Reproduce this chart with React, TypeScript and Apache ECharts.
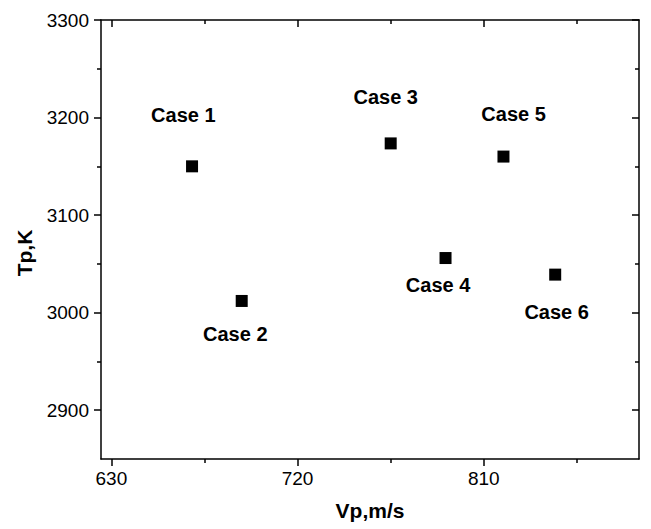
import React, { useEffect, useRef } from "react";
import * as echarts from "echarts";

// Data
const caseNames = ["Case 1", "Case 2", "Case 3", "Case 4", "Case 5", "Case 6"];
const vpValues = [669, 693, 765, 791.5, 819.5, 844.5];
const tpValues = [3150, 3012, 3173.5, 3056, 3160, 3039];
// annotation anchors (data units) for the case labels
const labelVp = [664.8, 689.9, 762.6, 787.9, 824.4, 845.2];
const labelTp = [3203, 2978, 3221.5, 3028.5, 3204, 3001];

const xMajorTicks = [630, 720, 810];
const xMinorTicks = [675, 765, 855];
const yMajorTicks = [2900, 3000, 3100, 3200, 3300];
const yMinorTicks = [2950, 3050, 3150, 3250];

const X_MIN = 625;
const X_MAX = 885;
const Y_MIN = 2850;
const Y_MAX = 3300;

const FONT = "'Liberation Sans', Arial, sans-serif";

export default function App() {
  const ref = useRef<HTMLDivElement>(null);

  useEffect(() => {
    document.body.style.margin = "0";
    if (!ref.current) return;
    const chart = echarts.init(ref.current, null, { renderer: "svg" });

    const lineStyle = { color: "#000", width: 1.5 };
    const plain = (v: number) => String(v);
    const mkX = (position: string, ticks: number[], len: number, inside: boolean, labels: boolean, line: boolean) => ({
      type: "value",
      position,
      min: X_MIN,
      max: X_MAX,
      axisLine: { show: line, onZero: false, lineStyle },
      axisTick: { show: true, customValues: ticks, length: len, inside, lineStyle },
      axisLabel: labels
        ? { show: true, customValues: ticks, formatter: plain, color: "#000", fontSize: 19, fontFamily: FONT, margin: 10 }
        : { show: false },
      splitLine: { show: false },
    });
    const mkY = (position: string, ticks: number[], len: number, inside: boolean, labels: boolean, line: boolean) => ({
      type: "value",
      position,
      min: Y_MIN,
      max: Y_MAX,
      axisLine: { show: line, onZero: false, lineStyle },
      axisTick: { show: true, customValues: ticks, length: len, inside, lineStyle },
      axisLabel: labels
        ? { show: true, customValues: ticks, formatter: plain, color: "#000", fontSize: 19, fontFamily: FONT, margin: 12 }
        : { show: false },
      splitLine: { show: false },
    });

    chart.setOption({
      animation: false,
      backgroundColor: "#fff",
      grid: { left: 101, right: 12, top: 20, bottom: 70, containLabel: false },
      xAxis: [
        mkX("bottom", xMajorTicks, 7, false, true, true),
        mkX("bottom", xMinorTicks, 4, false, false, false),
        mkX("top", xMajorTicks, 7, true, false, true),
        mkX("top", xMinorTicks, 4, true, false, false),
      ],
      yAxis: [
        mkY("left", yMajorTicks, 7, false, true, true),
        mkY("left", yMinorTicks, 4, false, false, false),
        mkY("right", yMajorTicks, 7, true, false, true),
        mkY("right", yMinorTicks, 4, true, false, false),
      ],
      series: [
        {
          type: "scatter",
          xAxisIndex: 0,
          yAxisIndex: 0,
          symbol: "rect",
          symbolSize: 12,
          itemStyle: { color: "#000", opacity: 1 },
          data: vpValues.map((v, i) => ({ name: caseNames[i], value: [v, tpValues[i]] })),
        },
        {
          type: "scatter",
          xAxisIndex: 0,
          yAxisIndex: 0,
          symbol: "rect",
          symbolSize: 1,
          itemStyle: { color: "rgba(0,0,0,0)", opacity: 1 },
          label: {
            show: true,
            position: "inside",
            formatter: (p: any) => p.name,
            color: "#000",
            opacity: 1,
            fontSize: 20,
            fontWeight: "bold",
            fontFamily: FONT,
          },
          data: labelVp.map((v, i) => ({ name: caseNames[i], value: [v, labelTp[i]] })),
        },
      ],
      graphic: [
        {
          type: "text",
          x: 370,
          y: 510,
          style: {
            text: "Vp,m/s",
            fill: "#000",
            fontSize: 21,
            fontWeight: "bold",
            fontFamily: FONT,
            align: "center",
            verticalAlign: "middle",
          },
        },
        {
          type: "text",
          x: 24,
          y: 253,
          rotation: Math.PI / 2,
          style: {
            text: "Tp,K",
            fill: "#000",
            fontSize: 21,
            fontWeight: "bold",
            fontFamily: FONT,
            align: "center",
            verticalAlign: "middle",
          },
        },
      ],
    });

    return () => chart.dispose();
  }, []);

  return <div ref={ref} style={{ width: 651, height: 529 }} />;
}
